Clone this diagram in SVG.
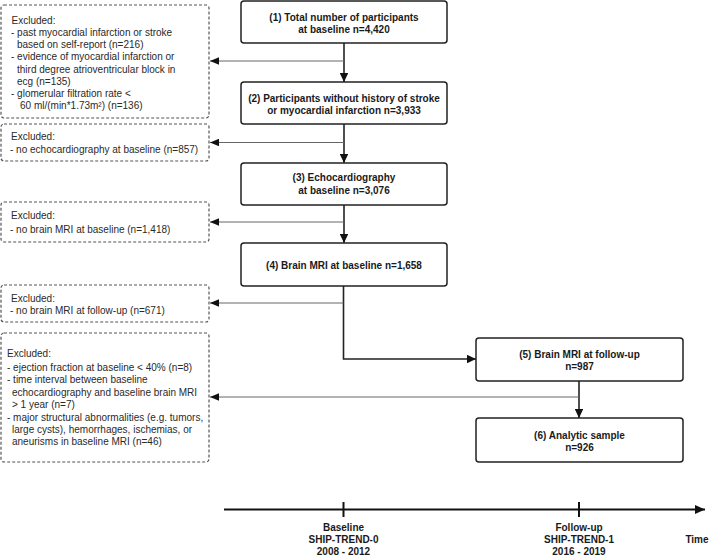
<svg xmlns="http://www.w3.org/2000/svg" width="709" height="556" viewBox="0 0 709 556">
<style>
.node{fill:#fff;stroke:#222;stroke-width:1.5}
.exb{fill:#fff;stroke:#555;stroke-width:1.2;stroke-dasharray:3 2}
.nt{font-family:"Liberation Sans",Arial,sans-serif;font-size:10px;font-weight:bold;fill:#1a1a1a;text-anchor:middle}
.et{font-family:"Liberation Sans",Arial,sans-serif;font-size:10px;fill:#2a2a2a}
.main{fill:none;stroke:#222;stroke-width:1.6}
.side{fill:none;stroke:#666;stroke-width:1}
</style>
<defs>
<marker id="ah" viewBox="0 0 10 10" refX="10" refY="5" markerWidth="9" markerHeight="8.5" markerUnits="userSpaceOnUse" orient="auto" preserveAspectRatio="none"><path d="M0,0 L10,5 L0,10 z" fill="#111"/></marker>
<marker id="ahs" viewBox="0 0 10 10" refX="10" refY="5" markerWidth="9" markerHeight="7.5" markerUnits="userSpaceOnUse" orient="auto" preserveAspectRatio="none"><path d="M0,0 L10,5 L0,10 z" fill="#111"/></marker>
<marker id="aht" viewBox="0 0 10 10" refX="10" refY="5" markerWidth="10" markerHeight="9" markerUnits="userSpaceOnUse" orient="auto" preserveAspectRatio="none"><path d="M0,0 L10,5 L0,10 z" fill="#111"/></marker>
</defs>

<g id="connectors">
<line class="main" x1="344" y1="43" x2="344" y2="82" marker-end="url(#ah)"/>
<line class="side" x1="344" y1="61" x2="210" y2="61" marker-end="url(#ahs)"/>
<line class="main" x1="344" y1="124" x2="344" y2="163" marker-end="url(#ah)"/>
<line class="side" x1="344" y1="142.5" x2="210" y2="142.5" marker-end="url(#ahs)"/>
<line class="main" x1="344" y1="205" x2="344" y2="243" marker-end="url(#ah)"/>
<line class="side" x1="344" y1="222" x2="210" y2="222" marker-end="url(#ahs)"/>
<polyline class="main" points="343.5,286 343.5,359 476,359" marker-end="url(#ah)"/>
<line class="side" x1="343.5" y1="303" x2="210" y2="303" marker-end="url(#ahs)"/>
<line class="main" x1="579" y1="381" x2="579" y2="418" marker-end="url(#ah)"/>
<line class="side" x1="579" y1="397" x2="210" y2="397" marker-end="url(#ahs)"/>
</g>

<g id="n1"><rect class="node" x="241" y="1" width="206" height="42" rx="3"/>
<text class="nt" x="344" y="20.5">(1) Total number of participants</text>
<text class="nt" x="344" y="32.5">at baseline n=4,420</text></g>

<g id="n2"><rect class="node" x="241" y="82" width="206" height="42" rx="3"/>
<text class="nt" x="344" y="101.5">(2) Participants without history of stroke</text>
<text class="nt" x="344" y="113.5">or myocardial infarction n=3,933</text></g>

<g id="n3"><rect class="node" x="241" y="163" width="206" height="42" rx="3"/>
<text class="nt" x="344" y="181">(3) Echocardiography</text>
<text class="nt" x="344" y="194">at baseline n=3,076</text></g>

<g id="n4"><rect class="node" x="241" y="243" width="206" height="43" rx="3"/>
<text class="nt" x="344" y="269">(4) Brain MRI at baseline n=1,658</text></g>

<g id="n5"><rect class="node" x="476" y="338" width="207" height="43" rx="3"/>
<text class="nt" x="579.5" y="357.5">(5) Brain MRI at follow-up</text>
<text class="nt" x="579.5" y="370">n=987</text></g>

<g id="n6"><rect class="node" x="476" y="418" width="207" height="44" rx="3"/>
<text class="nt" x="579.5" y="439">(6) Analytic sample</text>
<text class="nt" x="579.5" y="451">n=926</text></g>

<g id="e1"><rect class="exb" x="1" y="5" width="208" height="113" rx="3"/>
<text class="et" x="11.5" y="23.5">Excluded:</text>
<text class="et" x="11" y="35.8">- past myocardial infarction or stroke</text>
<text class="et" x="17" y="48">based on self-report (n=216)</text>
<text class="et" x="11" y="60.3">- evidence of myocardial infarction or</text>
<text class="et" x="17" y="72.5">third degree atrioventricular block in</text>
<text class="et" x="17" y="84.8">ecg (n=135)</text>
<text class="et" x="11" y="97">- glomerular filtration rate &lt;</text>
<text class="et" x="20" y="109.3">60 ml/(min*1.73m²)  (n=136)</text></g>

<g id="e2"><rect class="exb" x="1" y="124" width="208" height="37" rx="3"/>
<text class="et" x="11" y="140">Excluded:</text>
<text class="et" x="10" y="153">- no echocardiography at baseline (n=857)</text></g>

<g id="e3"><rect class="exb" x="1" y="202" width="208" height="40" rx="3"/>
<text class="et" x="11" y="218.5">Excluded:</text>
<text class="et" x="10" y="233">- no brain MRI at baseline (n=1,418)</text></g>

<g id="e4"><rect class="exb" x="1" y="285" width="208" height="37" rx="3"/>
<text class="et" x="11" y="301.5">Excluded:</text>
<text class="et" x="10" y="313.5">- no brain MRI at follow-up (n=671)</text></g>

<g id="e5"><rect class="exb" x="1" y="333" width="208" height="129" rx="3"/>
<text class="et" x="7" y="357">Excluded:</text>
<text class="et" x="7" y="371">- ejection fraction at baseline &lt; 40% (n=8)</text>
<text class="et" x="7" y="383">- time interval between baseline</text>
<text class="et" x="12" y="395.5">echocardiography and baseline brain MRI</text>
<text class="et" x="12" y="408">&gt; 1 year (n=7)</text>
<text class="et" x="7" y="420.5">- major structural abnormalities (e.g. tumors,</text>
<text class="et" x="12" y="432.5">large cysts), hemorrhages, ischemias, or</text>
<text class="et" x="12" y="444.5">aneurisms in baseline MRI (n=46)</text></g>

<g id="timeline">
<line x1="224" y1="509.5" x2="705" y2="509.5" stroke="#111" stroke-width="2" marker-end="url(#aht)"/>
<line x1="343.5" y1="502" x2="343.5" y2="517" stroke="#111" stroke-width="2"/>
<line x1="579" y1="502" x2="579" y2="517" stroke="#111" stroke-width="2"/>
<text class="nt" x="343.5" y="531">Baseline</text>
<text class="nt" x="343.5" y="543">SHIP-TREND-0</text>
<text class="nt" x="343.5" y="555">2008 - 2012</text>
<text class="nt" x="579" y="531">Follow-up</text>
<text class="nt" x="579" y="543">SHIP-TREND-1</text>
<text class="nt" x="579" y="555">2016 - 2019</text>
<text class="nt" x="697" y="543">Time</text>
</g>
</svg>
